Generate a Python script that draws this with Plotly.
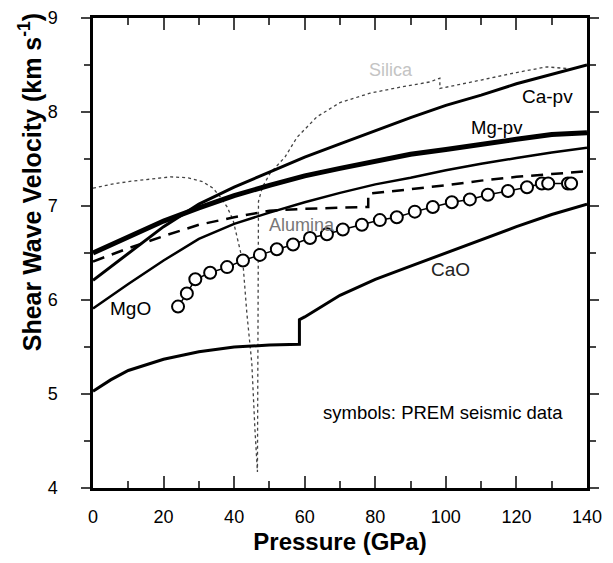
import plotly.graph_objects as go

# ---- data ----
mgpv_p = [0, 10, 20, 30, 40, 50, 60, 70, 80, 90, 100, 110, 120, 130, 140]
mgpv_v = [6.50, 6.67, 6.84, 6.98, 7.11, 7.22, 7.32, 7.40, 7.48, 7.55, 7.60, 7.66, 7.71, 7.76, 7.78]

capv_p = [0, 10, 20, 30, 40, 50, 60, 70, 80, 90, 100, 110, 120, 130, 140]
capv_v = [6.21, 6.50, 6.78, 7.02, 7.20, 7.36, 7.52, 7.66, 7.80, 7.94, 8.07, 8.18, 8.30, 8.40, 8.50]

mgo_p = [0, 10, 20, 30, 40, 50, 60, 70, 80, 90, 100, 110, 120, 130, 140]
mgo_v = [5.91, 6.17, 6.42, 6.65, 6.81, 6.93, 7.04, 7.14, 7.23, 7.30, 7.38, 7.45, 7.51, 7.57, 7.62]

cao_p = [0, 5, 10, 20, 30, 40, 50, 58.5, 58.5, 60, 70, 80, 90, 100, 110, 120, 130, 140]
cao_v = [5.03, 5.15, 5.25, 5.37, 5.45, 5.50, 5.52, 5.53, 5.79, 5.82, 6.05, 6.22, 6.36, 6.50, 6.64, 6.78, 6.91, 7.02]

alumina_p = [0, 10, 20, 30, 40, 50, 60, 70, 78, 78, 90, 100, 110, 120, 130, 140]
alumina_v = [6.41, 6.55, 6.68, 6.80, 6.88, 6.95, 6.97, 6.98, 6.99, 7.13, 7.18, 7.22, 7.27, 7.31, 7.34, 7.37]

silica_p = [0, 5, 10, 15, 22, 27, 31, 34, 36, 38, 39.7, 41.7, 42.5, 43.6, 45, 45.9, 46.6,
            46.9, 48, 50.2, 54.4, 57.8, 63.5, 70, 78.5, 87.8, 95.5, 98.3, 98.3, 110, 120, 128.6, 133, 135]
silica_v = [7.19, 7.23, 7.26, 7.28, 7.31, 7.30, 7.26, 7.19, 7.10, 6.99, 6.85, 6.53, 6.39, 5.86, 5.33, 4.62, 4.17,
            7.05, 7.20, 7.35, 7.52, 7.73, 7.95, 8.10, 8.20, 8.27, 8.32, 8.36, 8.25, 8.34, 8.42, 8.48, 8.47, 8.46]

prem_p = [24.1, 26.6, 29.0, 33.2, 38.0, 42.5, 47.3, 52.1, 56.7, 61.5, 66.3, 70.8, 76.2, 81.3, 86.1,
          91.2, 96.3, 101.7, 106.8, 111.9, 117.6, 123.0, 127.2, 129.0, 134.6, 135.5]
prem_v = [5.93, 6.07, 6.22, 6.29, 6.35, 6.42, 6.48, 6.54, 6.59, 6.66, 6.70, 6.75, 6.80, 6.85, 6.88,
          6.94, 6.99, 7.04, 7.07, 7.12, 7.16, 7.20, 7.24, 7.24, 7.24, 7.24]

x_ticks = [0, 20, 40, 60, 80, 100, 120, 140]
y_ticks = [4, 5, 6, 7, 8, 9]

FONT = "Liberation Sans, Arial, Helvetica, sans-serif"

fig = go.Figure()
fig.add_trace(go.Scatter(x=silica_p, y=silica_v, mode="lines",
                         line=dict(color="#444", width=1.3, dash="dot")))
fig.add_trace(go.Scatter(x=alumina_p, y=alumina_v, mode="lines",
                         line=dict(color="black", width=2.5, dash="12px,8px")))
fig.add_trace(go.Scatter(x=cao_p, y=cao_v, mode="lines", line=dict(color="black", width=3)))
fig.add_trace(go.Scatter(x=mgo_p, y=mgo_v, mode="lines", line=dict(color="black", width=2.5)))
fig.add_trace(go.Scatter(x=capv_p, y=capv_v, mode="lines", line=dict(color="black", width=3)))
fig.add_trace(go.Scatter(x=mgpv_p, y=mgpv_v, mode="lines", line=dict(color="black", width=5)))
fig.add_trace(go.Scatter(x=prem_p, y=prem_v, mode="lines+markers",
                         line=dict(color="black", width=1.5),
                         marker=dict(symbol="circle", size=12, color="white",
                                     line=dict(color="black", width=2))))

labels = [
    ("Silica", 84.4, 8.45, 18, "#c4c4c4"),
    ("Ca-pv", 128.7, 8.16, 19, "black"),
    ("Mg-pv", 114.5, 7.84, 18.5, "black"),
    ("Alumina", 59.2, 6.80, 18, "#777"),
    ("MgO", 10.5, 5.91, 19, "black"),
    ("CaO", 101.2, 6.32, 19, "#222"),
    ("symbols: PREM seismic data", 99.2, 4.80, 18.5, "black"),
]
for t, x, y, s, c in labels:
    fig.add_annotation(x=x, y=y, xref="x", yref="y", text=t, showarrow=False,
                       font=dict(family=FONT, size=s, color=c))

fig.add_annotation(x=-0.127, y=0.651, xref="paper", yref="paper", textangle=-90,
                   xanchor="center", yanchor="middle",
                   text="<b>Shear Wave Velocity (km s<sup>-1</sup>)</b>", showarrow=False,
                   font=dict(family=FONT, size=25, color="black"))

# page body has an 8px margin; compensate so the plot area lands where the reference has it
fig.update_layout(
    width=597, height=547,
    margin=dict(l=85, r=18, t=10, b=67),
    paper_bgcolor="white", plot_bgcolor="white",
    showlegend=False,
    font=dict(family=FONT, color="black"),
)
fig.update_xaxes(
    range=[0, 140], tickvals=x_ticks, ticks="inside", ticklen=12, tickwidth=2,
    showline=True, linewidth=2.5, linecolor="black", mirror="ticks",
    showgrid=False, zeroline=False, tickfont=dict(size=18), ticklabelstandoff=11,
    automargin=False,
    minor=dict(ticks="inside", ticklen=7, tickwidth=2, dtick=10, tick0=0, showgrid=False),
    title=dict(text="<b>Pressure (GPa)</b>", font=dict(size=24), standoff=15),
)
fig.update_yaxes(
    range=[4, 9], tickvals=y_ticks, ticks="outside", ticklen=9, tickwidth=2,
    showline=True, linewidth=2.5, linecolor="black", mirror="ticks",
    showgrid=False, zeroline=False, tickfont=dict(size=18), ticklabelstandoff=20,
    automargin=False,
    minor=dict(ticks="outside", ticklen=6, tickwidth=2, dtick=0.5, tick0=4, showgrid=False),
)

fig.write_html("out.html")
